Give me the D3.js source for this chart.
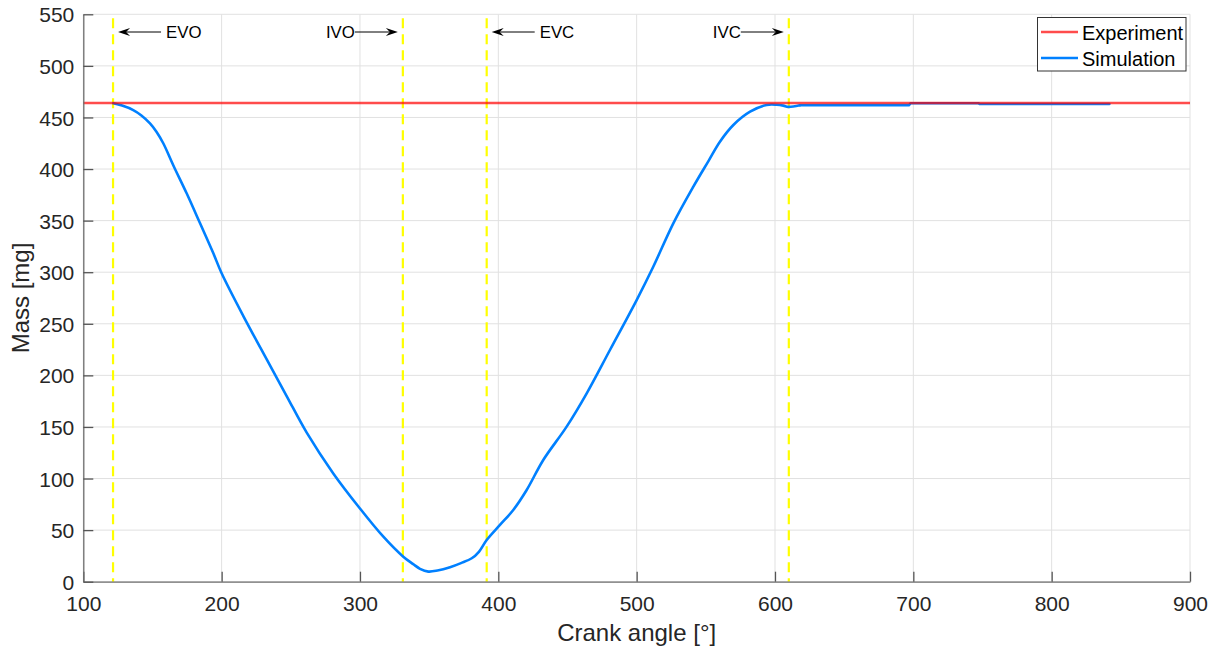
<!DOCTYPE html>
<html>
<head>
<meta charset="utf-8">
<script src="https://cdn.jsdelivr.net/npm/d3@7"></script>
<style>
  html, body { margin: 0; padding: 0; background: #fff; }
  svg { display: block; font-family: "Liberation Sans", Arial, Helvetica, sans-serif; }
</style>
</head>
<body>
<svg id="chart" width="1216" height="652"></svg>
<script>
// ---------- data ----------
const xTicks = [100, 200, 300, 400, 500, 600, 700, 800, 900];
const yTicks = [0, 50, 100, 150, 200, 250, 300, 350, 400, 450, 500, 550];

const experimentAngle = [100, 900];
const experimentMass = [464, 464];

const simAngle = [121.7, 128, 136.1, 142, 148.2, 153, 157.8, 165.1, 174.7, 184.4, 194, 200, 215.7, 232.6, 247, 261.5, 280.7, 300, 316.9, 331.3, 338.5, 343.4, 349.4, 356, 365.1, 373, 380.8, 386, 391.6, 401.2, 410.8, 420.5, 432.5, 449.4, 463.9, 480.7, 500, 512, 526.5, 541, 552, 560.2, 569.9, 582, 594, 601.2, 606, 609.6, 618, 650, 697, 698, 747, 748, 800, 841.7];
const simMass  = [463.7, 461.5, 457.2, 452, 444.3, 436, 425, 403.5, 376.5, 347.4, 318.3, 299, 257.5, 215.5, 180, 144.5, 105, 71, 43.6, 24.2, 17, 12.5, 9.8, 10.8, 14, 18, 22.7, 29, 40.4, 55, 69.5, 88.9, 118, 150.3, 182.6, 224.6, 273, 305.3, 347.4, 383, 408, 426.5, 442.7, 455.6, 462.1, 462.3, 461.5, 460.3, 461.8, 462, 462, 463.8, 463.8, 463, 463, 463];
const smoothEndAngle = 618; // smooth curve up to here, straight segments after

const valveLabels = ["EVO", "IVO", "EVC", "IVC"];
const valveAngles = [121.5, 331, 391.6, 610];
const valveArrowDir = [1, -1, 1, -1]; // 1: text right of line, arrow points left

const seriesNames = ["Experiment", "Simulation"];
const seriesColors = ["rgba(255,0,0,0.7)", "rgb(0,128,255)"];

// ---------- layout ----------
const svg = d3.select("#chart");
const L = 83.3, R = 1190, T = 14.3, B = 581.7;

const x = d3.scaleLinear().domain([100, 900]).range([L, R]);
const y = d3.scaleLinear().domain([0, 550]).range([B, T]);

// grid
const grid = svg.append("g");
grid.selectAll(".gx").data(xTicks).join("line")
  .attr("x1", d => x(d)).attr("x2", d => x(d))
  .attr("y1", T).attr("y2", B)
  .attr("stroke", "#e1e1e1").attr("stroke-width", 1);
grid.selectAll(".gy").data(yTicks).join("line")
  .attr("x1", L).attr("x2", R)
  .attr("y1", d => y(d)).attr("y2", d => y(d))
  .attr("stroke", "#e1e1e1").attr("stroke-width", 1);

// valve lines
svg.append("g").selectAll("line").data(valveAngles).join("line")
  .attr("x1", d => x(d)).attr("x2", d => x(d))
  .attr("y1", T + 4).attr("y2", B)
  .attr("stroke", "#ffff00").attr("stroke-width", 2.2)
  .attr("stroke-dasharray", "10,6");

// series
const simData = simAngle.map((a, i) => [a, simMass[i]]);
const expData = experimentAngle.map((a, i) => [a, experimentMass[i]]);
const smoothPart = simData.filter(d => d[0] <= smoothEndAngle);
const flatPart = simData.filter(d => d[0] >= smoothEndAngle);

const smoothLine = d3.line().x(d => x(d[0])).y(d => y(d[1])).curve(d3.curveCatmullRom.alpha(0.5));
const straightLine = d3.line().x(d => x(d[0])).y(d => y(d[1]));

[[smoothPart, smoothLine], [flatPart, straightLine]].forEach(([data, gen]) => {
  svg.append("path").datum(data)
    .attr("d", gen).attr("fill", "none")
    .attr("stroke", seriesColors[1]).attr("stroke-width", 2.6)
    .attr("stroke-linejoin", "round").attr("stroke-linecap", "round");
});

svg.append("path").datum(expData)
  .attr("d", straightLine)
  .attr("fill", "none")
  .attr("stroke", seriesColors[0]).attr("stroke-width", 2.6);

// axes
const axisColor = "#6e6e6e";
const xAxis = d3.axisBottom(x).tickValues(xTicks).tickSizeInner(-10).tickSizeOuter(0).tickPadding(14);
const gx = svg.append("g").attr("transform", `translate(0,${B})`).call(xAxis);
gx.select(".domain").attr("stroke", axisColor).attr("stroke-width", 1.3);
gx.selectAll(".tick line").attr("stroke", "#555").attr("stroke-width", 1.3);
gx.selectAll(".tick text").attr("fill", "#262626").attr("font-size", 21)
  .attr("font-family", "Liberation Sans, Arial, sans-serif");

const yAxis = d3.axisLeft(y).tickValues(yTicks).tickSizeInner(-10).tickSizeOuter(0).tickPadding(9);
const gy = svg.append("g").attr("transform", `translate(${L},0)`).call(yAxis);
gy.select(".domain").attr("stroke", axisColor).attr("stroke-width", 1.3);
gy.selectAll(".tick line").attr("stroke", "#555").attr("stroke-width", 1.3);
gy.selectAll(".tick text").attr("fill", "#262626").attr("font-size", 21)
  .attr("font-family", "Liberation Sans, Arial, sans-serif").attr("dy", "0.36em");

// axis labels
svg.append("text").attr("x", (L + R) / 2).attr("y", 641)
  .attr("text-anchor", "middle").attr("font-size", 24).attr("fill", "#262626")
  .text("Crank angle [°]");
svg.append("text").attr("transform", `translate(29,${(T + B) / 2}) rotate(-90)`)
  .attr("text-anchor", "middle").attr("font-size", 24).attr("fill", "#262626")
  .text("Mass [mg]");

// annotations
const ay = 32;
const ann = svg.append("g");
valveAngles.forEach((a, i) => {
  const lx = x(a);
  const dir = valveArrowDir[i];
  const head = lx + dir * 5;
  const tail = lx + dir * 48;
  const g = ann.append("g");
  g.append("line").attr("x1", tail).attr("x2", head + dir * 8).attr("y1", ay).attr("y2", ay)
    .attr("stroke", "#000").attr("stroke-width", 1);
  g.append("path")
    .attr("d", `M${head},${ay} L${head + dir * 12},${ay - 4} L${head + dir * 8},${ay} L${head + dir * 12},${ay + 4} Z`)
    .attr("fill", "#000");
  g.append("text")
    .attr("x", dir > 0 ? tail + 5 : tail)
    .attr("y", ay + 6)
    .attr("text-anchor", dir > 0 ? "start" : "end")
    .attr("font-size", 16.8).attr("fill", "#000")
    .text(valveLabels[i]);
});

// legend
const lg = svg.append("g");
lg.append("rect").attr("x", 1037.5).attr("y", 17.5).attr("width", 148.5).attr("height", 53.5)
  .attr("fill", "#fff").attr("stroke", "#333").attr("stroke-width", 1);
const legY = [32, 58];
seriesNames.forEach((n, i) => {
  lg.append("line").attr("x1", 1041).attr("x2", 1078).attr("y1", legY[i]).attr("y2", legY[i])
    .attr("stroke", seriesColors[i]).attr("stroke-width", 2.6);
  lg.append("text").attr("x", 1082).attr("y", legY[i] + 7.5)
    .attr("font-size", 20).attr("fill", "#000").text(n);
});
</script>
</body>
</html>
